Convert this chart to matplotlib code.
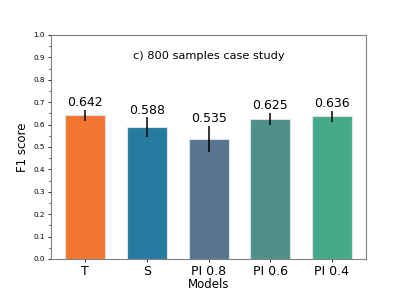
import matplotlib
matplotlib.use("Agg")
import matplotlib.pyplot as plt
from matplotlib.ticker import MultipleLocator

models = ['T', 'S', 'PI 0.8', 'PI 0.6', 'PI 0.4']
f1 = [0.642, 0.588, 0.535, 0.625, 0.636]
err = [0.024, 0.044, 0.058, 0.026, 0.024]
colores = ['#f47530', '#287ba0', '#58748f', '#4e8f8b', '#44aa8a']

fig, ax = plt.subplots(figsize=(4.07, 2.91), dpi=100)
barras = ax.bar(models, f1, width=0.65, color=colores, edgecolor='#d8e4ea', linewidth=0.8,
                yerr=err, error_kw=dict(ecolor='black', elinewidth=1.1, capsize=0))
for i, b in enumerate(barras):
    ax.text(b.get_x() + b.get_width()/2, f1[i] + err[i] + 0.003, '%.3f' % f1[i],
            ha='center', va='bottom', fontsize=9)
ax.set_ylim(0, 1.0)
ax.yaxis.set_major_locator(MultipleLocator(0.1))
ax.yaxis.set_minor_locator(MultipleLocator(0.05))
ax.tick_params(axis='y', labelsize=5.2, length=2.5, width=0.6, pad=2)
ax.tick_params(axis='y', which='minor', length=1.5, width=0.5)
ax.tick_params(axis='x', labelsize=9, length=2.5, width=0.6, pad=1.5)
for s in ax.spines.values():
    s.set_color('#808080')
    s.set_linewidth(0.8)
ax.text(0.5, 0.907, 'c) 800 samples case study', transform=ax.transAxes,
        ha='center', va='center', fontsize=8.2)
ax.set_ylabel('F1 score', fontsize=8.5, labelpad=3)
ax.set_xlabel('Models', fontsize=8.5, labelpad=0)
fig.savefig('out.png')
